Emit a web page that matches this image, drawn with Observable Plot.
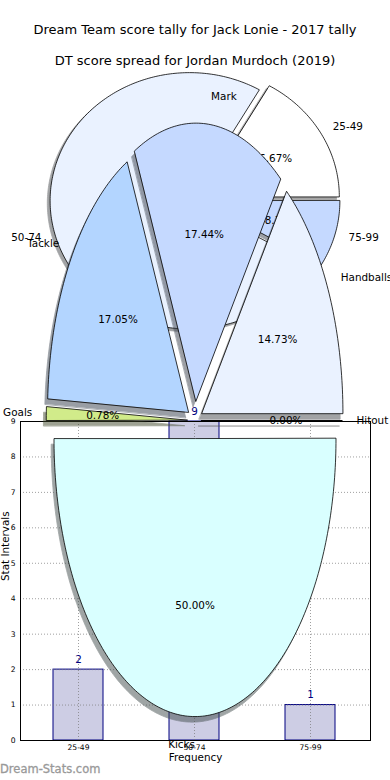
<!DOCTYPE html>
<html><head><meta charset="utf-8">
<script src="https://cdn.jsdelivr.net/npm/d3@7"></script>
<script src="https://cdn.jsdelivr.net/npm/@observablehq/plot@0.6"></script>
<style>
body{margin:0;background:#fff;}
#wrap{position:relative;width:390px;height:780px;overflow:hidden;font-family:"DejaVu Sans",sans-serif;background:#fff;}
#wrap svg{position:absolute;left:0;top:0;overflow:visible;}
.title{position:absolute;left:0;width:390px;text-align:center;font-size:13px;line-height:16px;color:#000;}
.wm{position:absolute;left:0;top:762px;font-size:11.5px;line-height:15px;color:#999;font-weight:normal;-webkit-text-stroke:0.3px #999;}
</style></head>
<body><div id="wrap">
<div class="title" style="top:22px">Dream Team score tally for Jack Lonie - 2017 tally</div>
<div class="title" style="top:53px">DT score spread for Jordan Murdoch (2019)</div>
</div>
<script>
// ---- data ----
const barCategories = ["25-49", "50-74", "75-99"];
const barValues = [2, 9, 1];
const yTicks = [0, 1, 2, 3, 4, 5, 6, 7, 8, 9];

const tallyLabels = ["25-49", "50-74", "75-99"];
const tallyValues = [2, 9, 1];

const spreadLabels = ["Hitout", "Handballs", "Mark", "Tackle", "Goals", "Kicks"];
const spreadValues = [0, 38, 45, 44, 2, 129];

// ---- styles ----
const pieColors = ["#ffffff", "#eaf2ff", "#c5d9ff", "#b3d5ff", "#d1eb8a", "#d9ffff"];
const tallyExplode = [0.04, 0.04, 0.04];
const spreadExplode = [0.045, 0.055, 0.07, 0.055, 0.055, 0.065];
const FONT = "DejaVu Sans, sans-serif";

const wrap = document.getElementById("wrap");

// ---- bar chart ----
const barData = barCategories.map((c, i) => ({cat: c, value: barValues[i]}));
const bar = Plot.plot({
  width: 390, height: 780,
  marginTop: 421, marginBottom: 40, marginLeft: 20, marginRight: 20,
  style: {fontFamily: FONT, fontSize: "7.6px", background: "transparent", overflow: "visible", color: "#000"},
  x: {domain: barCategories, padding: 0, axis: null},
  y: {domain: [0, 9], axis: null},
  marks: [
    Plot.barY(barData, {x: "cat", y: "value", fill: "#cdcde4", stroke: "#000080", strokeWidth: 1, insetLeft: 33, insetRight: 33, dx: -1}),
    Plot.gridY(yTicks, {stroke: "#777", strokeOpacity: 0.7, strokeDasharray: "1,2"}),
    Plot.gridX(barCategories, {stroke: "#777", strokeOpacity: 0.7, strokeDasharray: "1,2", dx: -1}),
    Plot.text(barData, {x: "cat", y: "value", text: d => String(d.value), dy: -10, dx: -1, fill: "#000080", fontSize: 10.4}),
    Plot.axisY(yTicks, {tickSize: 0, tickPadding: 5, label: null, fontSize: 7.6}),
    Plot.axisX(barCategories, {tickSize: 0, tickPadding: 4, label: null, fontSize: 7.6, dx: -1}),
    Plot.frame({stroke: "#000", strokeWidth: 1}),
    Plot.text(["Frequency"], {text: d => d, frameAnchor: "bottom", dy: 20, fontSize: 10.4}),
    Plot.text(["Stat Intervals"], {text: d => d, frameAnchor: "left", rotate: -90, dx: -15, fontSize: 10.4})
  ]
});
wrap.appendChild(bar);

// ---- pies ----
function wedges(values, explode) {
  const total = d3.sum(values);
  let acc = 0;
  return values.map((v, i) => {
    const t1 = acc / total * 2 * Math.PI;
    acc += v;
    const t2 = acc / total * 2 * Math.PI;
    const mid = (t1 + t2) / 2;
    const ox = explode[i] * Math.cos(mid), oy = explode[i] * Math.sin(mid);
    const n = Math.max(1, Math.ceil((t2 - t1) / (Math.PI / 180)));
    const pts = [{x: ox, y: oy}];
    for (let k = 0; k <= n; k++) {
      const t = t1 + (t2 - t1) * k / n;
      pts.push({x: ox + Math.cos(t), y: oy + Math.sin(t)});
    }
    return {i, v, mid, ox, oy, pts, pct: (v / total * 100).toFixed(2) + "%"};
  });
}

function piePlot(labels, values, colors, explode, g) {
  const ws = wedges(values, explode);
  const shadows = ws.map(w => {
    const c = d3.rgb(colors[w.i]);
    const sc = d3.rgb(c.r * 0.3, c.g * 0.3, c.b * 0.3).formatHex();
    return Plot.line(w.pts, {x: d => d.x - 0.02, y: d => d.y - 0.02, curve: "linear-closed",
      fill: sc, stroke: sc, strokeWidth: 0.8, opacity: 0.5});
  });
  const slices = ws.map(w => Plot.line(w.pts, {x: "x", y: "y", curve: "linear-closed",
    fill: colors[w.i], stroke: "#000", strokeWidth: 0.8}));
  const lab = ws.map(w => ({
    label: labels[w.i], pct: w.pct,
    lx: w.ox + 1.1 * Math.cos(w.mid), ly: w.oy + 1.1 * Math.sin(w.mid),
    px: w.ox + 0.6 * Math.cos(w.mid), py: w.oy + 0.6 * Math.sin(w.mid)
  }));
  return Plot.plot({
    width: 390, height: 780, margin: 0,
    style: {fontFamily: FONT, fontSize: "10.4px", background: "transparent", overflow: "visible", color: "#000"},
    x: {domain: [-1, 1], range: [g.cx - g.rx, g.cx + g.rx], axis: null},
    y: {domain: [-1, 1], range: [g.cy + g.ry, g.cy - g.ry], axis: null},
    marks: [
      ...shadows,
      ...slices,
      Plot.text(lab, {x: "px", y: "py", text: "pct", fontSize: 10.4}),
      Plot.text(lab, {filter: d => d.lx > 0, x: "lx", y: "ly", text: "label", textAnchor: "start", fontSize: 10.4}),
      Plot.text(lab, {filter: d => !(d.lx > 0), x: "lx", y: "ly", text: "label", textAnchor: "end", fontSize: 10.4})
    ]
  });
}

wrap.appendChild(piePlot(tallyLabels, tallyValues, pieColors, tallyExplode, {cx: 194.5, cy: 199, rx: 139.5, ry: 128.2}));
wrap.appendChild(piePlot(spreadLabels, spreadValues, pieColors, spreadExplode, {cx: 194.5, cy: 420, rx: 141, ry: 278}));

const wm = document.createElement("div");
wm.className = "wm";
wm.textContent = "Dream-Stats.com";
wrap.appendChild(wm);
</script>
</body></html>
